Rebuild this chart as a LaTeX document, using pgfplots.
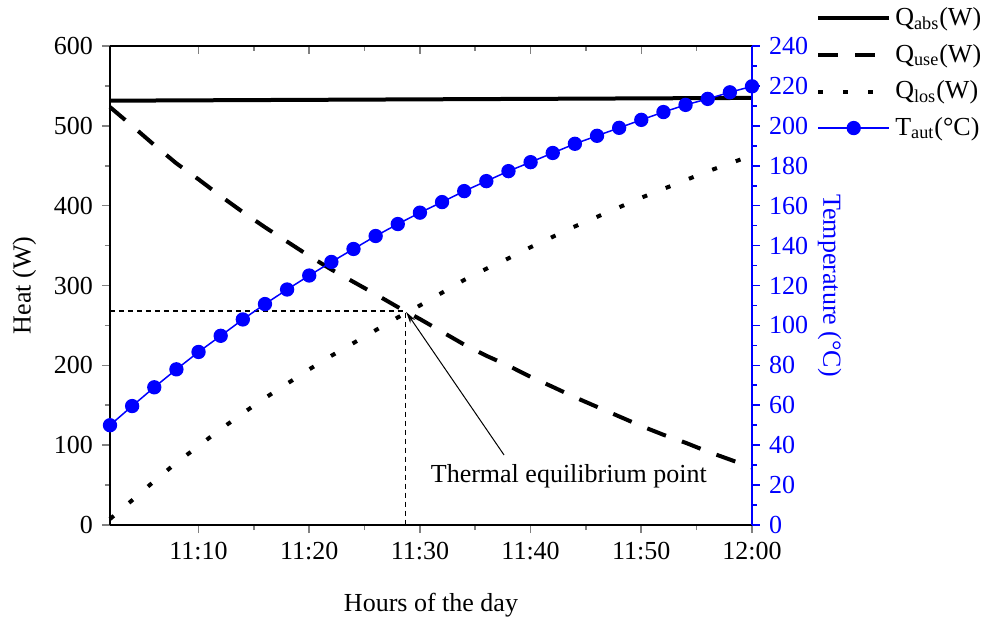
\documentclass[border=0pt]{standalone}
\usepackage{fontspec}
\setmainfont{Liberation Serif}
\usepackage{pgfplots}
\pgfplotsset{compat=1.18}
\usetikzlibrary{arrows.meta}
\definecolor{tblue}{RGB}{0,0,255}

\begin{document}
\fontsize{13}{15}\selectfont
\begin{tikzpicture}
\useasboundingbox (-55pt,-46pt) rectangle (435.5pt,262.5pt);
\pgfplotsset{
  every axis/.append style={
    scale only axis, width=321pt, height=239.5pt,
    at={(0,0)}, anchor=south west,
    xmin=2, xmax=60,
    font=\fontsize{13}{15}\selectfont,
    /pgf/number format/assume math mode=true,
    major tick length=4pt, minor tick length=2.5pt,
    every tick/.append style={line width=0.8pt},
    axis line style={line width=0.8pt},
    every outer x axis line/.append style={-},
    every outer y axis line/.append style={-},
  },
  legend image code/.code={\draw[mark repeat=2,mark phase=2,#1] plot coordinates {(0cm,0cm) (0.625cm,0cm) (1.25cm,0cm)};}
}

% top spine with inward ticks
\begin{axis}[axis x line*=top, axis y line=none, tick align=inside,
  ymin=0, ymax=1, xtick={10,20,...,60}, xticklabels={}, minor x tick num=1]
\end{axis}

% left axis: heat
\begin{axis}[axis x line*=bottom, axis y line*=left, tick align=outside,
  ymin=0, ymax=600, ytick={0,100,...,600}, minor y tick num=1,
  xtick={10,20,...,60}, xticklabels={11:10,11:20,11:30,11:40,11:50,12:00},
  minor x tick num=1,
  xlabel={Hours of the day}, xlabel style={yshift=-8pt},
  ylabel={Heat (W)},
  clip=false]
\addplot[black, line width=2pt] coordinates {(2,531.5) (60,535)};
\addplot[black, line width=2pt, dash pattern=on 10pt off 8.5pt] coordinates {
(2,523.5) (4,500) (6,476) (8,453) (10,433) (12,412) (14,392) (16,373) (18,355) (20,337)
(22,320) (24,304.5) (26,289) (28,273) (30,258) (32,242) (34,226) (36,212) (38,199.5) (40,185.6)
(42,173) (44,160) (46,148) (48,136) (50,124) (52,113) (54,103) (56,92) (58,82) (60,72)};
\addplot[black, line width=2pt, dash pattern=on 2.5pt off 10pt] coordinates {
(2,7.5) (4,31) (6,55) (8,78) (10,99) (12,120) (14,140) (16,159) (18,177) (20,195)
(22,212) (24,228) (26,244) (28,260) (30,275) (32,291) (34,307) (36,321) (38,334) (40,348)
(42,361) (44,374) (46,386) (48,398) (50,410) (52,421) (54,432) (56,443) (58,453) (60,463)};
\addplot[black, line width=0.6pt, dash pattern=on 2.5pt off 2pt] coordinates {(2,268) (28.7,268) (28.7,0)};
\addplot[black, line width=0.5pt, -{Stealth[length=6pt,width=3pt]}] coordinates {(37.6,87.7) (28.75,267)};
\node at (axis cs:43.45,61.4) {Thermal equilibrium point};
\end{axis}

% right axis: temperature
\begin{axis}[axis x line=none, axis y line*=right, tick align=outside,
  ymin=0, ymax=240, ytick={0,20,...,240}, minor y tick num=1,
  y axis line style={draw=tblue},
  y tick style={draw=tblue}, minor y tick style={draw=tblue},
  yticklabel style={text=tblue},
  ylabel={Temperature (°C)}, ylabel style={text=tblue, rotate=180},
  ylabel shift=-4pt,
  legend style={at={(1.09,1.098)}, anchor=north west, draw=none, fill=none,
    font=\fontsize{13}{15}\selectfont, row sep=3.3pt},
  legend cell align=left]
\addlegendimage{black, line width=2pt}
\addlegendentry{Q\textsubscript{abs}(W)}
\addlegendimage{black, line width=2pt, dash pattern=on 10pt off 8.5pt}
\addlegendentry{Q\textsubscript{use}(W)}
\addlegendimage{black, line width=2pt, dash pattern=on 2.5pt off 10pt}
\addlegendentry{Q\textsubscript{los}(W)}
\addplot[tblue, line width=0.75pt, mark=*, mark size=3.2pt, mark options={fill=tblue, draw=tblue}] coordinates {
(2,50) (4,59.6) (6,69) (8,78) (10,86.7) (12,94.8) (14,103) (16,110.7) (18,118) (20,125)
(22,131.8) (24,138.3) (26,144.8) (28,150.8) (30,156.5) (32,161.8) (34,167.3) (36,172.3) (38,177.3) (40,181.8)
(42,186.4) (44,191) (46,195) (48,199) (50,203) (52,206.9) (54,210.5) (56,213.5) (58,216.8) (60,219.8)};
\addlegendentry{T\textsubscript{aut}(°C)}
\end{axis}
\end{tikzpicture}
\end{document}
